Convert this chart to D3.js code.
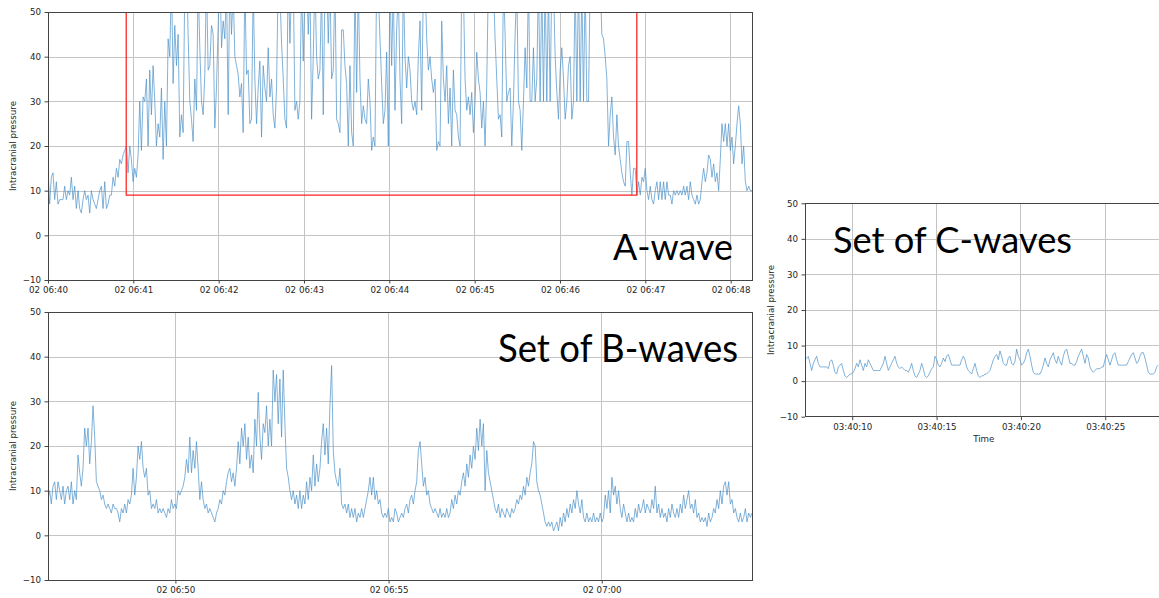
<!DOCTYPE html>
<meta charset="utf-8">
<style>
body { margin: 0; background: #fff; }
svg { display: block; background: #fff; }
.tick text, .lbl { font-family: "DejaVu Sans", sans-serif; font-size: 8.7px; fill: #262626; }
.tick line { stroke: #444; }
.grid line { stroke: #c4c4c4; stroke-width: 1; shape-rendering: crispEdges; }
.frame { fill: none; stroke: #444; stroke-width: 1; shape-rendering: crispEdges; }
.icp { fill: none; stroke: #4a90c8; stroke-width: 0.7; stroke-linejoin: round; }
.box { fill: none; stroke: #ff2a2a; stroke-width: 1.3; }
.big { font-family: Lato, "Open Sans", sans-serif; fill: #000; }
</style>

<svg id="chart" width="1159" height="598"></svg>
<script src="https://cdn.jsdelivr.net/npm/d3@7"></script>

<script>
// y ticks are shared by the three panels
var yTicks = [-10, 0, 10, 20, 30, 40, 50];

// A-wave: one sample every ~1.17 s from 06:40:00
var aStart = "2020-01-02T06:40:00Z", aEnd = "2020-01-02T06:48:15Z", aStep = 1.173;
var aTicks = ["06:40", "06:41", "06:42", "06:43", "06:44", "06:45", "06:46", "06:47", "06:48"];
var aBox = {from: "2020-01-02T06:40:55Z", to: "2020-01-02T06:46:54Z", low: 9, high: 53};
var aValues = [
  15,7,13,14,8,12,7,8,8,8, 11,8,10,9,13,8,11,6,10,6, 5,8,10,8,9,5,10,8,7,6,
  8,10,11,6,12,6,7,9,9,13, 11,15,13,17,16,18,19,20,14,20, 17,12,15,13,18,30,19,31,30,35,
  20,37,27,38,30,20,25,22,33,17, 30,20,44,40,58,34,47,38,45,22, 27,23,56,60,45,30,26,21,35,28,
  57,42,30,27,36,58,37,38,47,45, 24,33,47,60,42,48,44,56,27,58, 45,55,40,38,36,31,34,23,57,36,
  37,25,26,56,35,25,33,39,22,38, 33,30,42,31,35,27,24,33,58,55, 43,35,26,24,60,43,56,58,28,30,
  26,30,57,39,55,60,45,56,26,40, 58,40,35,37,56,27,55,60,43,57, 35,37,58,26,25,23,46,46,38,34,
  20,38,23,20,57,32,56,35,25,29, 26,25,35,30,19,22,20,58,55,44, 34,25,28,41,20,57,38,56,28,46,
  55,35,
  25,57,40,33,40,37,30,28,30,27, 40,48,28,56,58,44,37,40,35,32, 35,19,21,20,48,35,30,38,25,33,
  20,37,28,27,22,20,57,55,35,28, 31,27,32,23,30,41,35,32,24,30, 20,34,58,55,60,56,44,35,26,27,
  22,57,45,30,32,33,20,30,45,56, 30,28,19,30,42,33,57,30,30,42, 30,35,58,30,56,30,57,30,55,30,
  58,56,40,32,26,37,42,35,26,30, 38,40,26,30,57,30,58,30,56,30, 57,30,30,58,55,60,56,58,55,57,
  45,44,40,35,20,27,31,22,18,27, 20,17,14,12,11,21,21,14,9,15, 15,9,12,9,13,12,15,10,8,11,
  8,7,10,12,8,12,8,12,8,12, 9,9,7,10,9,10,9,10,9,11, 9,11,8,12,9,8,7,9,7,8,
  12,15,12,14,18,17,13,16,12,14, 10,17,25,21,25,20,25,19,22,16, 20,25,29,25,16,20,12,10,11,10,
  10
];

// B-waves: one sample every ~2.35 s from 06:47:00
var bStart = "2020-01-02T06:47:00.700Z", bEnd = "2020-01-02T07:03:31.500Z", bStep = 2.348;
var bTicks = ["06:50", "06:55", "07:00"];
var bValues = [
  8,10,7,11,12,8,12,10,8,11, 7,10,11,8,12,7,10,8,18,14, 11,15,24,20,24,16,21,29,22,12,
  11,10,8,9,7,6,7,6,5,7, 6,6,5,3,6,5,7,5,8,7, 9,15,9,13,20,17,21,15,13,15,
  9,10,6,7,6,8,5,6,5,6, 5,4,6,5,8,6,7,6,10,9, 10,11,13,17,14,22,14,19,15,21,
  15,8,12,8,6,7,5,6,5,4, 3,5,6,8,7,10,9,12,14,15, 12,14,11,15,21,16,24,20,25,17,
  22,15,18,14,26,20,32,22,17,25, 23,29,20,26,20,37,30,36,25,35, 22,37,25,15,13,10,8,10,7,9,
  6,10,6,9,7,12,8,13,10,18, 11,16,12,15,21,25,18,24,16,29, 38,19,14,12,11,15,7,6,7,5,
  7,4,6,4,6,3,5,4,6,4, 6,8,10,13,9,13,8,10,7,8, 5,4,5,4,6,3,4,3,6,5,
  3,4,
  5,4,6,7,5,8,9,7,10,12, 19,21,16,11,13,9,10,7,6,5, 6,5,4,6,4,5,4,6,4,5,
  8,6,9,7,10,9,12,14,11,16, 13,18,15,20,17,24,19,26,20,25, 10,19,14,12,10,8,6,5,7,4,
  6,5,4,6,5,4,6,5,6,8, 7,9,8,11,9,13,11,14,16,21, 20,12,10,9,7,5,3,2,3,2,
  3,1,2,3,1,4,2,5,3,6, 4,7,5,8,6,10,7,5,8,4, 3,5,3,4,3,5,3,4,3,5,
  3,4,9,6,10,5,13,9,11,7, 10,6,4,7,5,3,5,3,4,3, 6,4,7,5,6,8,5,7,6,5,
  8,6,11,5,7,4,6,4,5,3, 6,4,7,5,4,6,4,7,5,9, 6,8,10,6,7,5,8,4,5,3,
  4,3,4,2,5,3,4,6,5,8, 6,10,7,11,12,9,12,7,8,5, 6,4,3,5,3,4,6,3,5,4,
  5
];

// C-waves: one sample every ~0.1 s from 03:40:07.2
var cStart = "2020-01-02T03:40:07.200Z", cEnd = "2020-01-02T03:40:28.400Z", cStep = 0.0988;
var cTicks = ["03:40:10", "03:40:15", "03:40:20", "03:40:25"];
var cValues = [
  6,6.5,7,5,3,5,6,7,5,4, 4,4,4,4,3.5,5.5,6,4.5,2.5,2, 4,4.5,5,3,1.5,1,1.5,2,2,2.5,
  3.5,5,4,6,4.5,3,5,4,6,5, 4,3,3,3,3,3,4,5,7,5, 3,4,5,6,7,5,4,3.5,4,3.5,
  3,3,2.5,3.5,5,3,1.5,1,2,3, 5,3.5,1.5,1,1.5,2.5,3.5,4,7,6, 4.5,4,5,6.5,5.5,7,7.5,6,4.5,4.5,
  4.5,4.5,4.5,4.5,6,7,6,4,3,2.5, 2,3.5,5,3,1.5,1,1.5,1.5,2,2, 2.5,3,4.5,6,7,7.5,6,8.5,7,5,
  4.5,4.5,6.5,7,5,4.5,5.5,9,7,6, 4.5,5,6,8,9,7,4.5,2.5,2,2, 2,2,3,4.5,6.5,5,4,6,7,8,
  6,5,7,5.5,4.5,7,8.5,9,7,5, 5,4.5,4.5,5.5,7,8,9,7,5,7.5, 6.5,4,3,2.5,3,3.5,3.5,3.5,4,4,
  6,7.5,6,4.5,6,7.5,8,6,4.5,4.5, 4.5,4.5,4.5,4.5,5.5,6.5,7.5,8,6.5,5, 5.5,7,8,8,6.5,4.5,2.5,2,2,2,
  2.5,4,4.5
];

var svg = d3.select("#chart");

var panels = [
  {id: "a", left: 48, top: 12, width: 704, height: 268, start: aStart, end: aEnd, step: aStep,
   values: aValues, ticks: aTicks, day: "2020-01-02T", fmt: "%d %H:%M", box: aBox,
   title: "A-wave", tx: 613, ty: 259.5, tsize: 37.5, tlen: 120, ylx: -32},
  {id: "b", left: 48, top: 312, width: 704, height: 268, start: bStart, end: bEnd, step: bStep,
   values: bValues, ticks: bTicks, day: "2020-01-02T", fmt: "%d %H:%M",
   title: "Set of B-waves", tx: 498, ty: 361.7, tsize: 38, tlen: 240, ylx: -32},
  {id: "c", left: 805, top: 203.3, width: 357.6, height: 213.4, start: cStart, end: cEnd, step: cStep,
   values: cValues, ticks: cTicks, day: "2020-01-02T", fmt: "%H:%M:%S", xlabel: "Time",
   title: "Set of C-waves", tx: 833, ty: 252.7, tsize: 36, tlen: 239, ylx: -31.5}
];

panels.forEach(function(p) {
  var g = svg.append("g").attr("transform", "translate(" + p.left + "," + p.top + ")");
  var t0 = d3.isoParse(p.start);
  var x = d3.scaleUtc().domain([t0, d3.isoParse(p.end)]).range([0, p.width]);
  var y = d3.scaleLinear().domain([-10, 50]).range([p.height, 0]);
  var tickDates = p.ticks.map(function(t) {
    return d3.isoParse(p.day + (t.length == 5 ? t + ":00" : t) + "Z");
  });

  g.append("clipPath").attr("id", "clip-" + p.id)
    .append("rect").attr("width", p.width).attr("height", p.height);

  // grid
  g.append("g").attr("class", "grid").selectAll("line")
    .data(yTicks).enter().append("line")
      .attr("x1", 0).attr("x2", p.width)
      .attr("y1", function(d) { return Math.round(y(d)) + 0.5; })
      .attr("y2", function(d) { return Math.round(y(d)) + 0.5; });
  g.append("g").attr("class", "grid").selectAll("line")
    .data(tickDates).enter().append("line")
      .attr("y1", 0).attr("y2", p.height)
      .attr("x1", function(d) { return x(d); })
      .attr("x2", function(d) { return x(d); });

  // the signal
  var pts = p.values.map(function(v, i) { return [new Date(+t0 + i * p.step * 1000), v]; });
  g.append("path").datum(pts)
    .attr("class", "icp")
    .attr("clip-path", "url(#clip-" + p.id + ")")
    .attr("d", d3.line()
      .x(function(d) { return x(d[0]); })
      .y(function(d) { return y(d[1]); }));

  if (p.box) { //red frame round the A-wave
    g.append("rect").attr("class", "box")
      .attr("clip-path", "url(#clip-" + p.id + ")")
      .attr("x", x(d3.isoParse(p.box.from)))
      .attr("y", y(p.box.high))
      .attr("width", x(d3.isoParse(p.box.to)) - x(d3.isoParse(p.box.from)))
      .attr("height", y(p.box.low) - y(p.box.high));
  }

  // axes
  var xa = g.append("g")
      .attr("transform", "translate(0," + p.height + ")")
      .call(d3.axisBottom(x).tickValues(tickDates).tickFormat(d3.utcFormat(p.fmt))
        .tickSize(3.5).tickPadding(3.5));
  xa.select(".domain").remove();
  var ya = g.append("g")
      .call(d3.axisLeft(y).tickValues(yTicks).tickSize(3.5).tickPadding(3.5));
  ya.select(".domain").remove();
  g.selectAll(".tick text").attr("font-family", null).attr("font-size", null);

  g.append("rect").attr("class", "frame")
    .attr("x", 0.5).attr("y", 0.5).attr("width", p.width).attr("height", p.height - 0.5);

  g.append("text").attr("class", "lbl")
    .attr("transform", "translate(" + p.ylx + "," + (p.height / 2) + ") rotate(-90)")
    .attr("text-anchor", "middle")
    .text("Intracranial pressure");

  if (p.xlabel) {
    g.append("text").attr("class", "lbl")
      .attr("x", p.width / 2).attr("y", p.height + 25.5)
      .attr("text-anchor", "middle")
      .text(p.xlabel);
  }

  svg.append("text").attr("class", "big")
    .attr("x", p.tx).attr("y", p.ty)
    .attr("font-size", p.tsize)
    .attr("textLength", p.tlen).attr("lengthAdjust", "spacingAndGlyphs")
    .text(p.title);
});
</script>
